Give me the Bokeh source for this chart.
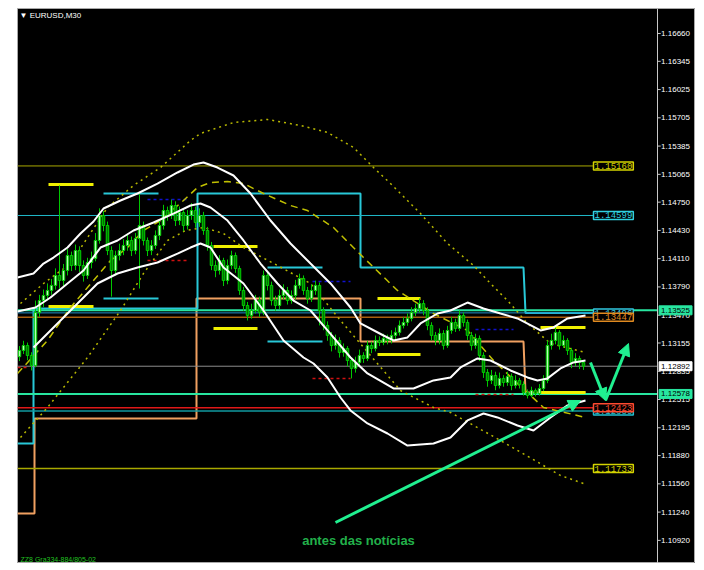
from bokeh.plotting import figure
from bokeh.models import Label, Span, Arrow, NormalHead
from bokeh.core.properties import value
from bokeh.embed import file_html
from bokeh.resources import INLINE

# ---------------- data ----------------
first_open = 1.13000
closes = [1.13071, 1.13127, 1.13014, 1.12901, 1.13501, 1.13636, 1.13693, 1.13750, 1.13807, 1.13920,
          1.13863, 1.13976, 1.14146, 1.14033, 1.14202, 1.14033, 1.13920, 1.14067, 1.14112, 1.14316,
          1.14599, 1.14486, 1.14202, 1.13976, 1.14146, 1.14202, 1.14259, 1.14316, 1.14202, 1.14338,
          1.14486, 1.14316, 1.14202, 1.14259, 1.14372, 1.14486, 1.14655, 1.14599, 1.14712, 1.14542,
          1.14633, 1.14486, 1.14599, 1.14655, 1.14520, 1.14599, 1.14429, 1.14259, 1.14033, 1.13976,
          1.14089, 1.13863, 1.14033, 1.14146, 1.13999, 1.13750, 1.13580, 1.13467, 1.13523, 1.13636,
          1.13501, 1.13920, 1.13807, 1.13636, 1.13580, 1.13693, 1.13750, 1.13636, 1.13693, 1.13807,
          1.13886, 1.13750, 1.13659, 1.13750, 1.13807, 1.13523, 1.13354, 1.13241, 1.13127, 1.13184,
          1.13048, 1.13093, 1.12957, 1.12867, 1.12935, 1.13014, 1.12980, 1.13127, 1.13093, 1.13184,
          1.13161, 1.13207, 1.13184, 1.13241, 1.13275, 1.13354, 1.13388, 1.13433, 1.13501, 1.13546,
          1.13602, 1.13523, 1.13354, 1.13241, 1.13184, 1.13263, 1.13127, 1.13297, 1.13388, 1.13320,
          1.13467, 1.13388, 1.13241, 1.13127, 1.13207, 1.13014, 1.12822, 1.12731, 1.12788, 1.12674,
          1.12754, 1.12708, 1.12776, 1.12674, 1.12731, 1.12686, 1.12595, 1.12561, 1.12618, 1.12584,
          1.12640, 1.12731, 1.13127, 1.13184, 1.13275, 1.13127, 1.13184, 1.13071, 1.12935, 1.12980,
          1.12935, 1.12892]
highs = [1.13120, 1.13180, 1.13160, 1.13050, 1.13636, 1.13700, 1.13760, 1.13830, 1.13880, 1.14000,
         1.14939, 1.14050, 1.14220, 1.14190, 1.14270, 1.14250, 1.14090, 1.14120, 1.14190, 1.14400,
         1.14680, 1.14650, 1.14530, 1.14250, 1.14200, 1.14280, 1.14330, 1.14390, 1.14360, 1.14400,
         1.14848, 1.14530, 1.14350, 1.14320, 1.14430, 1.14550, 1.14720, 1.14700, 1.14780, 1.14760,
         1.14700, 1.14680, 1.14660, 1.14740, 1.14700, 1.14680, 1.14640, 1.14470, 1.14300, 1.14090,
         1.14150, 1.14120, 1.14100, 1.14200, 1.14180, 1.14030, 1.13790, 1.13620, 1.13600, 1.13700,
         1.13680, 1.13976, 1.13950, 1.13850, 1.13690, 1.13760, 1.13820, 1.13790, 1.13750, 1.13870,
         1.13940, 1.13920, 1.13790, 1.13820, 1.13860, 1.13841, 1.13560, 1.13400, 1.13280, 1.13250,
         1.13220, 1.13150, 1.13120, 1.12990, 1.13000, 1.13080, 1.13050, 1.13180, 1.13170, 1.13240,
         1.13230, 1.13260, 1.13250, 1.13300, 1.13330, 1.13410, 1.13450, 1.13490, 1.13560, 1.13600,
         1.13659, 1.13640, 1.13560, 1.13390, 1.13280, 1.13320, 1.13300, 1.13350, 1.13450, 1.13430,
         1.13523, 1.13500, 1.13420, 1.13280, 1.13260, 1.13240, 1.13050, 1.12860, 1.12850, 1.12830,
         1.12820, 1.12790, 1.12830, 1.12810, 1.12790, 1.12760, 1.12720, 1.12630, 1.12660, 1.12640,
         1.12690, 1.12790, 1.13184, 1.13260, 1.13330, 1.13300, 1.13240, 1.13210, 1.13100, 1.13040,
         1.13010, 1.12960]
lows = [1.12950, 1.13030, 1.12960, 1.12844, 1.12880, 1.13450, 1.13560, 1.13640, 1.13700, 1.13760,
        1.13772, 1.13800, 1.13920, 1.13970, 1.13980, 1.13960, 1.13850, 1.13880, 1.14000, 1.14080,
        1.14280, 1.14420, 1.14150, 1.13680, 1.13920, 1.14090, 1.14150, 1.14200, 1.14140, 1.14160,
        1.13772, 1.14260, 1.14140, 1.14150, 1.14220, 1.14320, 1.14440, 1.14540, 1.14560, 1.14480,
        1.14490, 1.14420, 1.14440, 1.14550, 1.14460, 1.14470, 1.14380, 1.14200, 1.13980, 1.13900,
        1.13930, 1.13800, 1.13820, 1.13990, 1.13950, 1.13700, 1.13520, 1.13410, 1.13430, 1.13490,
        1.13450, 1.13470, 1.13750, 1.13580, 1.13520, 1.13540, 1.13650, 1.13590, 1.13600, 1.13650,
        1.13770, 1.13700, 1.13600, 1.13620, 1.13700, 1.13354, 1.13300, 1.13180, 1.13060, 1.13080,
        1.12990, 1.13000, 1.12890, 1.12754, 1.12820, 1.12900, 1.12930, 1.12950, 1.13040, 1.13060,
        1.13120, 1.13130, 1.13140, 1.13150, 1.13200, 1.13240, 1.13320, 1.13350, 1.13400, 1.13460,
        1.13500, 1.13470, 1.13300, 1.13180, 1.13130, 1.13140, 1.13080, 1.13100, 1.13260, 1.13280,
        1.13290, 1.13340, 1.13190, 1.13070, 1.13090, 1.12950, 1.12760, 1.12660, 1.12690, 1.12620,
        1.12640, 1.12660, 1.12670, 1.12620, 1.12640, 1.12640, 1.12560, 1.12527, 1.12540, 1.12550,
        1.12560, 1.12610, 1.12700, 1.13080, 1.13140, 1.13080, 1.13100, 1.13020, 1.12870, 1.12890,
        1.12860, 1.12850]
opens = [first_open] + closes[:-1]   # each bar opens at the previous close

# price scale tick labels
price_ticks = [1.16660, 1.16345, 1.16025, 1.15705, 1.15385, 1.15065, 1.14750, 1.14430, 1.14110,
               1.13790, 1.13470, 1.13155, 1.12835, 1.12515, 1.12195, 1.11880, 1.11560, 1.11240, 1.10920]

# white envelope curves (bar index, price)
upper_x = [-0.5, 3.5, 6, 8.5, 12, 15.25, 18.5, 21, 25.25, 29.5, 34.5, 39.5, 43.5, 46, 49.5, 53.5,
           57.75, 62.75, 67.75, 72.75, 77.75, 82.75, 85.25, 91, 93.5, 97, 100.25, 104.5, 107.75,
           112, 116, 120.25, 124.5, 130.25, 133.5, 137, 141.5]
upper_y = [1.13897, 1.13942, 1.14055, 1.14123, 1.14236, 1.14395, 1.14531, 1.14678, 1.14769, 1.14848,
           1.14961, 1.15086, 1.15176, 1.15199, 1.15142, 1.15052, 1.14848, 1.14542, 1.14282, 1.14055,
           1.13829, 1.13557, 1.13376, 1.13240, 1.13184, 1.13218, 1.13376, 1.13489, 1.13523, 1.13613,
           1.13546, 1.13489, 1.13433, 1.13297, 1.13331, 1.13433, 1.13467]
mid_x = [-0.5, 4, 7.75, 12, 16, 20.25, 24.5, 28.5, 33.5, 38.5, 42.75, 45.25, 47.75, 52, 56, 60.25,
         64.5, 68.5, 72.75, 77, 82.75, 87, 93.5, 98.5, 103.5, 107.75, 110.25, 114.5, 117.75, 122.75,
         127, 129.5, 132, 135.25, 138.5, 141.5]
mid_y = [1.13512, 1.13557, 1.13670, 1.13829, 1.13976, 1.14236, 1.14316, 1.14429, 1.14520, 1.14621,
         1.14712, 1.14735, 1.14689, 1.14542, 1.14316, 1.14055, 1.13829, 1.13636, 1.13523, 1.13297,
         1.12991, 1.12810, 1.12640, 1.12640, 1.12731, 1.12765, 1.12878, 1.12980, 1.12957, 1.12844,
         1.12765, 1.12731, 1.12754, 1.12867, 1.12935, 1.12957]
lower_x = [3.5, 6, 10.25, 14.5, 19.5, 24.5, 29.5, 34.5, 39.5, 42.75, 45.25, 47.75, 51, 56, 61,
           66, 71, 73.5, 77, 80.25, 82.75, 87, 92, 97, 103.5, 107.75, 109.5, 112, 116, 119.5,
           124.5, 128.5, 132.75, 137, 141.5]
lower_y = [1.13104, 1.13218, 1.13410, 1.13602, 1.13829, 1.13942, 1.14010, 1.14067, 1.14168, 1.14236,
           1.14282, 1.14236, 1.14010, 1.13829, 1.13523, 1.13183, 1.12991, 1.12923, 1.12765, 1.12538,
           1.12391, 1.12244, 1.12130, 1.11994, 1.12017, 1.12085, 1.12164, 1.12278, 1.12357, 1.12312,
           1.12221, 1.12164, 1.12312, 1.12448, 1.12504]

# dotted / dashed band curves
band_up_x = [0.25, 6, 12.75, 18.5, 22, 28.5, 35.25, 42.75, 45.25, 53.5, 62, 70.25, 77, 83.5, 88.5,
             92.75, 100.25, 107, 113.5, 117.75, 122, 127, 132.75, 141.5]
band_up_y = [1.13602, 1.13829, 1.14055, 1.14451, 1.14689, 1.14939, 1.15142, 1.15448, 1.15528,
             1.15652, 1.15686, 1.15618, 1.15539, 1.15369, 1.15142, 1.14961, 1.14621, 1.14282,
             1.14033, 1.13829, 1.13636, 1.13376, 1.13150, 1.13048]
band_lo_x = [0.25, 7, 17, 25.25, 31, 37, 41.5, 46, 51, 56, 64.5, 72.75, 80.25, 87.75, 95.25, 103.5,
             107.75, 120.25, 135.25, 141]
band_lo_y = [1.12085, 1.12425, 1.12991, 1.13523, 1.13942, 1.14316, 1.14429, 1.14463, 1.14395,
             1.14236, 1.14033, 1.13829, 1.13410, 1.13014, 1.12617, 1.12425, 1.12368, 1.12051,
             1.11655, 1.11564]
center_x = [-0.5, 7, 12.75, 18.5, 22.75, 27, 31, 35.25, 41, 44.5, 47.75, 52, 56, 61, 67.75, 72,
            78.5, 86, 94.5, 103.5, 112, 118.5, 124.5, 131, 141.5]
center_y = [1.12809, 1.13184, 1.13557, 1.13863, 1.14089, 1.14236, 1.14429, 1.14542, 1.14769,
            1.14916, 1.14972, 1.14984, 1.14961, 1.14848, 1.14712, 1.14655, 1.14463, 1.14123,
            1.13750, 1.13489, 1.13297, 1.12957, 1.12697, 1.12425, 1.12312]

# step lines
cyan_step_x = [-0.5, 3.5, 3.5, 44.5, 44.5, 85.25, 85.25, 126, 126.5, 143.5]
cyan_step_y = [1.12017, 1.12017, 1.13546, 1.13546, 1.14848, 1.14848, 1.14010, 1.14010, 1.13496, 1.13496]
orange_step_x = [-0.5, 3.75, 3.75, 44.25, 44.25, 85.25, 85.25, 126, 126.5, 141.5]
orange_step_y = [1.11225, 1.11225, 1.12300, 1.12300, 1.13659, 1.13659, 1.13172, 1.13172, 1.12595, 1.12595]

# short pivot markers: (x0, x1, price)
yellow_marks = [(7.25, 18.5, 1.14950), (7.25, 18.5, 1.13568), (48.5, 59.5, 1.14248), (48.5, 59.5, 1.13319),
                (89.5, 100.25, 1.13659), (89.5, 100.25, 1.13025), (130.25, 141.5, 1.13331),
                (130.25, 141.5, 1.12595)]
cyan_marks = [(21, 34.75, 1.14848), (21, 34.75, 1.13659), (62, 75.75, 1.14010), (62, 75.75, 1.13172)]
blue_marks = [(32, 42, 1.14780), (73.25, 82.75, 1.13851), (114, 123.5, 1.13308)]
red_marks = [(32, 42, 1.14089), (73.25, 82.75, 1.12753), (114, 123.5, 1.12572), (-0.5, 2.5, 1.12878)]

# horizontal levels: (price, line colour, width, label colour)
levels = [(1.15160, "#a8a800", 1, "#d4d400"), (1.14599, "#20b8c8", 1, "#30d0e0"),
          (1.13496, "#2090c8", 1, "#30c8e0"), (1.13447, "#a86010", 1.5, "#e08a20"),
          (1.12385, "#109aa0", 1.5, "#20c0d0"), (1.12423, "#e01818", 1.5, "#ff4a30"),
          (1.11733, "#a8a800", 1.5, "#d4d400")]
axis_levels = [(1.13525, "#28e6a0", 2, "#28e6a0"), (1.12892, "#8c8c8c", 1, "white"),
               (1.12578, "#28e6a0", 2, "#28e6a0")]

# ---------------- figure ----------------
# bars are 4 px apart; the frame also holds the price scale on its right (bar 159.5 = scale line)
p = figure(width=695, height=563, x_range=(-0.5, 169.0), y_range=(1.10658, 1.16943),
           output_backend="svg", toolbar_location=None,
           x_axis_location=None, y_axis_location=None,
           background_fill_color="black", border_fill_color="white",
           min_border_left=17, min_border_top=8, min_border_bottom=0, min_border_right=0,
           outline_line_color="#a8a8a8")
p.grid.visible = False

SCALE_X = 159.5
# price scale
p.add_layout(Span(location=SCALE_X, dimension="height", line_color="#c8c8c8", line_width=1))
p.segment(x0=[SCALE_X] * len(price_ticks), y0=price_ticks, x1=[SCALE_X + 0.8] * len(price_ticks),
          y1=price_ticks, line_color="#c8c8c8", line_width=1)
p.text(x=[SCALE_X + 0.9] * len(price_ticks), y=price_ticks, text=["%.5f" % t for t in price_ticks],
       text_color="white", text_font=value("Liberation Sans"), text_font_size="8px",
       text_baseline="middle", text_align="left")

# step lines
p.line(orange_step_x, orange_step_y, line_color="#f0a060", line_width=2)
p.line(cyan_step_x, cyan_step_y, line_color="#28c8d8", line_width=2)

# horizontal levels
for price, col, w, tcol in levels:
    p.line([-0.5, 143.5], [price, price], line_color=col, line_width=w)
for price, col, w, tcol in axis_levels:
    p.line([-0.5, SCALE_X], [price, price], line_color=col, line_width=w)

# pivot markers
for x0, x1, pr in cyan_marks:
    p.line([x0, x1], [pr, pr], line_color="#28c8d8", line_width=2)
for x0, x1, pr in yellow_marks:
    p.line([x0, x1], [pr, pr], line_color="#f0f000", line_width=3)
for x0, x1, pr in blue_marks:
    p.line([x0, x1], [pr, pr], line_color="#1010d0", line_width=1.5, line_dash="3 3")
for x0, x1, pr in red_marks:
    p.line([x0, x1], [pr, pr], line_color="#d01010", line_width=1.5, line_dash="3 3")

# dotted / dashed band curves
p.line(band_up_x, band_up_y, line_color="#b8b800", line_width=1.5, line_dash="2 4")
p.line(band_lo_x, band_lo_y, line_color="#b8b800", line_width=1.5, line_dash="2 4")
p.line(center_x, center_y, line_color="#c0c000", line_width=1.5, line_dash="7 5")

# candles
idx = list(range(len(closes)))
bull_i = [i for i in idx if closes[i] >= opens[i]]
bear_i = [i for i in idx if closes[i] < opens[i]]
p.segment(idx, highs, idx, lows, line_color="#00c800", line_width=1)
p.vbar(x=bull_i, width=0.62, top=[closes[i] for i in bull_i], bottom=[opens[i] for i in bull_i],
       fill_color="#b4ffb4", line_color="#00d000", line_width=1)
p.vbar(x=bear_i, width=0.62, top=[opens[i] for i in bear_i], bottom=[closes[i] for i in bear_i],
       fill_color="#007800", line_color="#00d000", line_width=1)

# white bands
for xs, ys in ((upper_x, upper_y), (mid_x, mid_y), (lower_x, lower_y)):
    p.line(xs, ys, line_color="white", line_width=2)

# price boxes
for price, col, w, tcol in levels:
    p.add_layout(Label(x=143.5, y=price, text="%.5f" % price, text_color=tcol,
                       text_font="Liberation Mono", text_font_size="9px",
                       text_baseline="middle", background_fill_color="black",
                       border_line_color=tcol, border_line_width=1.5, padding=1))
for price, col, w, tcol in axis_levels:
    p.add_layout(Label(x=SCALE_X + 0.4, y=price, text="%.5f" % price, text_color="black",
                       text_font="Liberation Sans", text_font_size="8px",
                       text_baseline="middle", background_fill_color=tcol,
                       border_line_color=tcol, padding=2))

# arrows and comments
green = "#20f090"
for xs, ys, xe, ye in ((79, 1.11122, 140.25, 1.12504), (142.75, 1.12934, 146.5, 1.12504),
                       (146.5, 1.12504, 152.25, 1.13149)):
    p.add_layout(Arrow(x_start=xs, y_start=ys, x_end=xe, y_end=ye, line_color=green, line_width=3,
                       end=NormalHead(size=12, fill_color=green, line_color=green)))
p.add_layout(Label(x=84.75, y=1.10918, text="antes das notícias", text_color="#22b04a",
                   text_font="Liberation Sans", text_font_style="bold", text_font_size="13px",
                   text_align="center", text_baseline="middle"))
p.add_layout(Label(x=0.0, y=1.16864, text="\u25bc EURUSD,M30", text_color="white",
                   text_font="Liberation Sans", text_font_size="8px", text_baseline="middle"))
p.add_layout(Label(x=0.25, y=1.10705, text="ZZ8 Gra334-884/805-02", text_color="#20c020",
                   text_font="Liberation Sans", text_font_size="7px", text_baseline="middle"))

open("out.html", "w").write(file_html(p, INLINE))
